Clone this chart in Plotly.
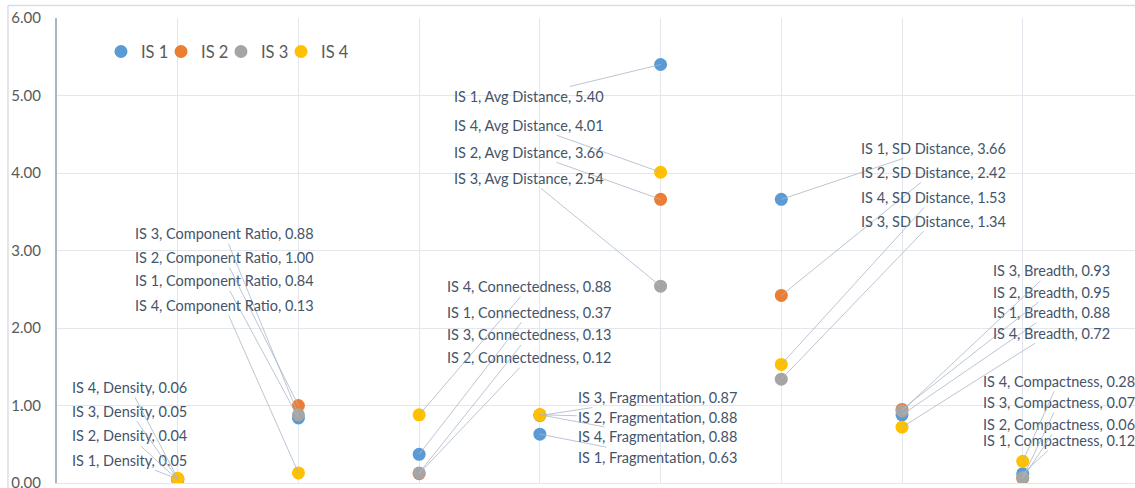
import plotly.graph_objects as go

categories = ["Density", "Component Ratio", "Connectedness", "Fragmentation",
              "Avg Distance", "SD Distance", "Breadth", "Compactness"]
series_names = ["IS 1", "IS 2", "IS 3", "IS 4"]
is1 = [0.05, 0.84, 0.37, 0.63, 5.40, 3.66, 0.88, 0.12]
is2 = [0.04, 1.00, 0.12, 0.88, 3.66, 2.42, 0.95, 0.06]
is3 = [0.05, 0.88, 0.13, 0.87, 2.54, 1.34, 0.93, 0.07]
is4 = [0.06, 0.13, 0.88, 0.88, 4.01, 1.53, 0.72, 0.28]
series_values = [is1, is2, is3, is4]
y_ticks = [0, 1, 2, 3, 4, 5, 6]
y_tick_labels = ["0.00", "1.00", "2.00", "3.00", "4.00", "5.00", "6.00"]

colors = ["#5B9BD5", "#ED7D31", "#A5A5A5", "#FFC000"]
legend_ids = ["legend", "legend2", "legend3", "legend4"]
legend_x = [0.0408, 0.0965, 0.1521, 0.2078]

# label placement (pixel offsets from point, per category, per series IS1..IS4)
label_offsets = {
    "Density":         [(-48, -19), (-48, -44), (-48, -68), (-48, -91)],
    "Component Ratio": [(-74, -137), (-74, -148), (-74, -181), (-74, -167)],
    "Connectedness":   [(110, -142), (110, -116), (110, -138), (110, -128)],
    "Fragmentation":   [(118, 23), (118, 3), (118, -18), (118, 22)],
    "Avg Distance":    [(-132, 32), (-132, -47), (-132, -108), (-132, -47)],
    "SD Distance":     [(152, -51), (152, -123), (152, -158), (152, -167)],
    "Breadth":         [(149, -102), (149, -117), (149, -140), (149, -94)],
    "Compactness":     [(36, -33), (36, -54), (36, -75), (36, -80)],
}

x_pos = [i + 1 for i in range(len(categories))]

fig = go.Figure()
for name, vals, col, lg in zip(series_names, series_values, colors, legend_ids):
    fig.add_trace(go.Scatter(
        x=x_pos, y=vals, mode="markers", name=name, legend=lg,
        marker=dict(color=col, size=13, line=dict(width=0)),
        hoverinfo="skip",
    ))

annotations = []
for si, (name, vals) in enumerate(zip(series_names, series_values)):
    for ci, cat in enumerate(categories):
        ax, ay = label_offsets[cat][si]
        annotations.append(dict(
            x=x_pos[ci], y=vals[ci], xref="x", yref="y",
            text=f"{name}, {cat}, {vals[ci]:.2f}",
            showarrow=True, arrowhead=0, arrowwidth=0.8, arrowcolor="#AAB6C8",
            ax=ax, ay=ay, standoff=0, startstandoff=0,
            font=dict(family="Lato", size=14.5, color="#44546A"),
        ))

shapes = [
    dict(type="line", xref="paper", yref="paper", x0=-0.0455, x1=1.0, y0=1.027, y1=1.027,
         line=dict(color="#DADDE2", width=1.5)),
    dict(type="line", xref="paper", yref="paper", x0=-0.0455, x1=-0.0455, y0=-0.02, y1=1.027,
         line=dict(color="#DADDE2", width=1.5)),
]

legend_style = dict(orientation="h", yanchor="top", xanchor="left", y=0.965,
                    font=dict(family="Lato", size=16.5, color="#595959"),
                    bgcolor="rgba(0,0,0,0)", itemwidth=30)
legends = {lid: dict(legend_style, x=lx) for lid, lx in zip(legend_ids, legend_x)}

fig.update_layout(
    width=1135, height=488,
    margin=dict(l=57, r=0, t=18, b=5, autoexpand=False),
    paper_bgcolor="white", plot_bgcolor="white",
    showlegend=True,
    xaxis=dict(range=[0, 8.93], tickvals=list(range(0, 10)), showticklabels=False,
               showgrid=True, gridcolor="#E3E6EC", gridwidth=1, zeroline=False,
               showline=True, linecolor="#E3E6EC", linewidth=1, ticks="",
               automargin=False),
    yaxis=dict(range=[0, 6], tickvals=y_ticks, ticktext=y_tick_labels,
               showgrid=True, gridcolor="#E3E6EC", gridwidth=1, zeroline=False,
               showline=True, linecolor="#A9B4C6", linewidth=2, ticks="",
               ticklabelstandoff=11, ticklabeloverflow="allow", automargin=False,
               tickfont=dict(family="Lato", size=15, color="#595959")),
    annotations=annotations,
    shapes=shapes,
    **legends,
)

fig.write_html("out.html",
               config={"displayModeBar": False},
               post_script="document.body.style.margin='0';document.body.style.padding='0';"
                           "document.body.style.overflow='hidden';")
